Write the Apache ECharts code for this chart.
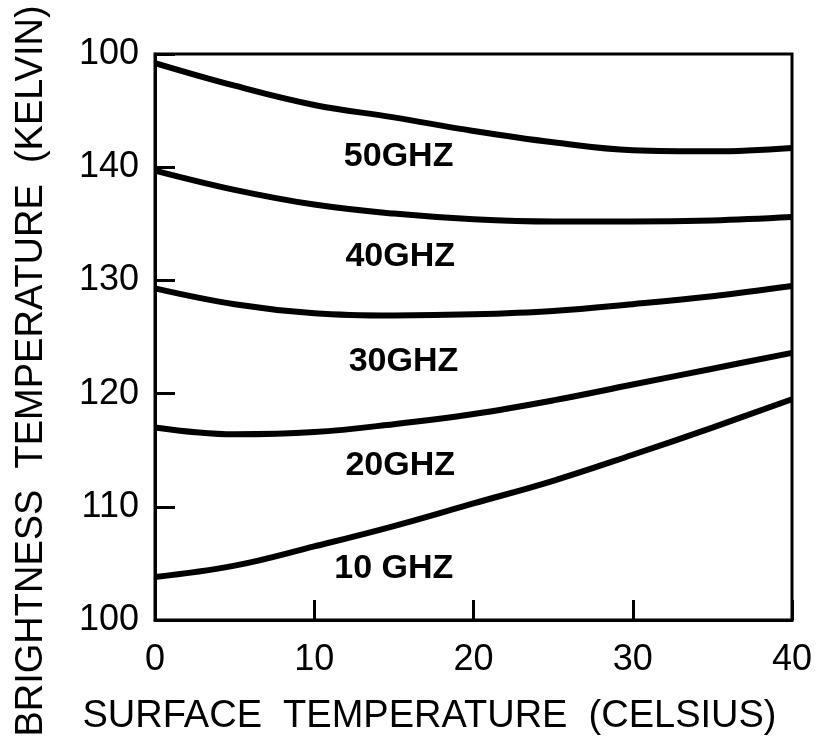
<!DOCTYPE html>
<html>
<head>
<meta charset="utf-8">
<script src="https://cdn.jsdelivr.net/npm/echarts@6/dist/echarts.min.js"></script>
<style>
html,body{margin:0;padding:0;background:#fff;}
#chart{width:823px;height:741px;}
</style>
</head>
<body>
<div id="chart"></div>
<script>
// Surface temperature (Celsius)
const surfaceTemps = [0, 5, 10, 15, 20, 25, 30, 35, 40];
// Brightness temperature (Kelvin) per frequency
const ghz50 = [149.2, 147.2, 145.5, 144.4, 143.2, 142.2, 141.5, 141.4, 141.7];
const ghz40 = [139.7, 138.0, 136.7, 135.9, 135.4, 135.2, 135.2, 135.3, 135.6];
const ghz30 = [129.3, 127.9, 127.1, 126.9, 127.0, 127.3, 127.9, 128.6, 129.5];
const ghz20 = [117.0, 116.4, 116.6, 117.3, 118.2, 119.4, 120.8, 122.2, 123.6];
const ghz10 = [103.8, 104.8, 106.5, 108.3, 110.3, 112.3, 114.6, 117.0, 119.5];
// Curve labels and where they sit (data coordinates)
const curveLabels = ["50GHZ", "40GHZ", "30GHZ", "20GHZ", "10 GHZ"];
const labelX = [15.3, 15.4, 15.6, 15.4, 15.0];
const labelY = [140.9, 132.1, 122.8, 113.6, 104.5];
// Tick labels as printed
const xTickLabels = ["0", "10", "20", "30", "40"];
const yTickLabels = ["100", "110", "120", "130", "140", "100"];

const FONT = "Liberation Sans";
const chart = echarts.init(document.getElementById('chart'), null, {renderer: 'canvas'});

function lineSeries(name, vals) {
  return {
    name: name,
    type: 'line',
    data: surfaceTemps.map((x, i) => [x, vals[i]]),
    smooth: 0.4,
    showSymbol: false,
    symbol: 'none',
    lineStyle: {color: '#000', width: 6},
    emphasis: {disabled: true},
    z: 3
  };
}

const option = {
  backgroundColor: '#fff',
  animation: false,
  grid: {
    left: 155, right: 31, top: 54, bottom: 118,
    show: true, borderColor: '#000', borderWidth: 3, backgroundColor: 'transparent'
  },
  xAxis: {
    type: 'value', min: 0, max: 40, interval: 10,
    name: 'SURFACE  TEMPERATURE  (CELSIUS)',
    nameLocation: 'middle', nameGap: 78,
    nameTextStyle: {fontFamily: FONT, fontSize: 38, color: '#000', padding: [0, 88, 0, 0]},
    axisLine: {show: true, lineStyle: {color: '#000', width: 3}},
    axisTick: {show: true, inside: true, length: 20, lineStyle: {color: '#000', width: 3}},
    splitLine: {show: false},
    axisLabel: {
      fontFamily: FONT, fontSize: 36, color: '#000', margin: 22,
      formatter: v => xTickLabels[Math.round(v / 10)]
    }
  },
  yAxis: {
    type: 'value', min: 100, max: 150, interval: 10,
    name: 'BRIGHTNESS  TEMPERATURE  (KELVIN)',
    nameLocation: 'middle', nameGap: 104, nameRotate: 90,
    nameTextStyle: {fontFamily: FONT, fontSize: 38, color: '#000', padding: [0, 68, 0, 0]},
    axisLine: {show: true, lineStyle: {color: '#000', width: 3}},
    axisTick: {show: true, inside: true, length: 20, lineStyle: {color: '#000', width: 3}},
    splitLine: {show: false},
    axisLabel: {
      fontFamily: FONT, fontSize: 36, color: '#000', margin: 16,
      formatter: v => yTickLabels[Math.round((v - 100) / 10)]
    }
  },
  series: [
    lineSeries('50 GHz', ghz50),
    lineSeries('40 GHz', ghz40),
    lineSeries('30 GHz', ghz30),
    lineSeries('20 GHz', ghz20),
    lineSeries('10 GHz', ghz10),
    {
      name: 'labels',
      type: 'scatter',
      symbolSize: 1,
      itemStyle: {color: 'rgba(0,0,0,0)'},
      data: curveLabels.map((t, i) => ({value: [labelX[i], labelY[i]], name: t})),
      label: {
        show: true, position: 'inside', formatter: p => p.name,
        fontFamily: FONT, fontSize: 34, fontWeight: 'bold', color: '#000',
        opacity: 1, textBorderWidth: 0
      },
      emphasis: {disabled: true},
      silent: true,
      z: 4
    }
  ]
};
chart.setOption(option);
</script>
</body>
</html>
